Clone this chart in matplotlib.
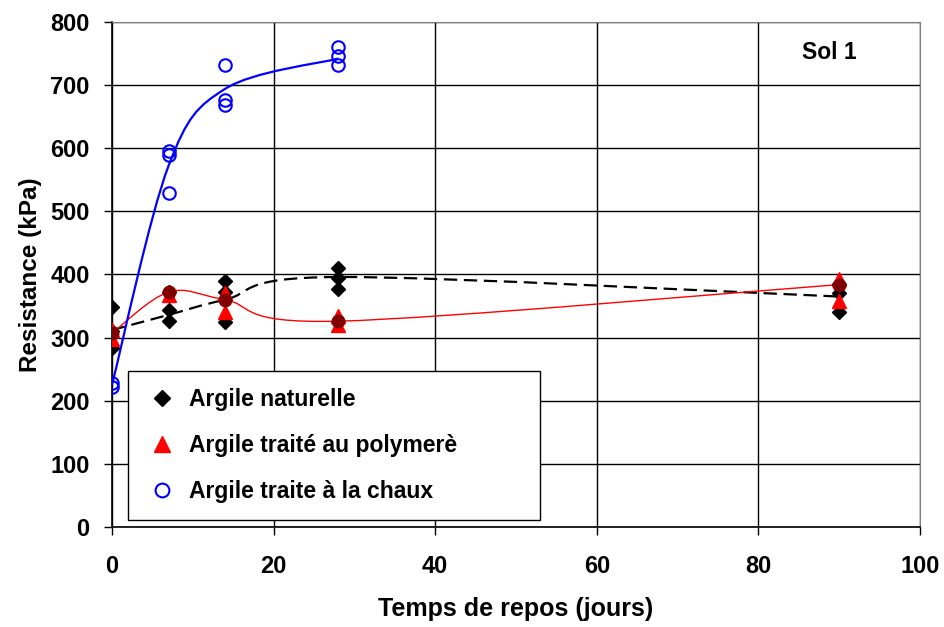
import numpy as np
import matplotlib.pyplot as plt
from matplotlib.path import Path
from matplotlib.patches import PathPatch

plt.rcParams['font.family'] = ['Liberation Sans', 'DejaVu Sans']
plt.rcParams['font.weight'] = 'bold'

# --- data -------------------------------------------------------------------
jours = [0, 7, 14, 28, 90]

# Argile naturelle (individual tests)
nat_x = [0, 0, 0, 7, 7, 7, 14, 14, 14, 28, 28, 28, 90, 90, 90]
nat_y = [348, 310, 283, 372, 343, 326, 389, 373, 325, 411, 395, 377, 385, 370, 341]
nat_moy = [312, 336, 360, 396, 365]

# Argile traitee au polymere
pol_x = [0, 0, 7, 14, 14, 28, 28, 90, 90]
pol_y = [312, 297, 367, 371, 341, 334, 320, 393, 358]
pol_moy = [307, 372, 360, 326, 384]

# Argile traitee a la chaux
chx_x = [0, 0, 7, 7, 7, 14, 14, 14, 28, 28, 28]
chx_y = [228, 222, 596, 589, 529, 732, 677, 668, 760, 746, 732]
chx_jours = [0, 7, 14, 28]
chx_moy = [225, 572, 694, 742]


def smooth_path(x, y):
    # excel-like smoothed line : bezier segments through the given points
    p = np.column_stack([x, y]).astype(float)
    p = np.vstack([p[0], p, p[-1]])
    verts = [p[1]]
    codes = [Path.MOVETO]
    for i in range(1, len(p) - 2):
        c1 = p[i] + (p[i + 1] - p[i - 1]) / 6
        c2 = p[i + 1] - (p[i + 2] - p[i]) / 6
        verts += [c1, c2, p[i + 1]]
        codes += [Path.CURVE4] * 3
    return Path(verts, codes)


fig = plt.figure(figsize=(9.44, 6.27), dpi=100)
ax = fig.add_axes([0.1186, 0.1595, 0.856, 0.8055])

ax.add_patch(PathPatch(smooth_path(jours, nat_moy), fill=False, color='black',
                       lw=1.6, ls=(0, (6, 3)), zorder=3))
ax.add_patch(PathPatch(smooth_path(jours, pol_moy), fill=False, color='red',
                       lw=1.0, zorder=3))
ax.add_patch(PathPatch(smooth_path(chx_jours, chx_moy), fill=False, color='blue',
                       lw=1.6, zorder=3))

ax.plot(nat_x, nat_y, 'D', color='black', ms=7.5, ls='none', zorder=4,
        label='Argile naturelle')
ax.plot(pol_x, pol_y, '^', color='red', ms=10, ls='none', zorder=5,
        label='Argile traité au polymerè')
ax.plot(jours, pol_moy, 'o', color='#800000', ms=9, ls='none', zorder=6)
ax.plot(chx_x, chx_y, 'o', mfc='none', mec='blue', mew=1.5, ms=9, ls='none',
        zorder=6, label='Argile traite à la chaux')

ax.set_xlim(0, 100)
ax.set_ylim(0, 800)
ax.set_xticks(np.arange(0, 101, 20))
ax.set_yticks(np.arange(0, 801, 100))
ax.grid(color='black', lw=1.0)
ax.set_axisbelow(True)
ax.tick_params(direction='out', length=6, width=1, labelsize=17)
ax.tick_params(axis='x', pad=14)
ax.tick_params(axis='y', pad=10)
for s in ['top', 'right']:
    ax.spines[s].set_color('#808080')
for s in ['left', 'bottom']:
    ax.spines[s].set_linewidth(1.2)

ax.set_xlabel('Temps de repos (jours)', fontsize=18, fontweight='bold', labelpad=14)
ax.set_ylabel('Resistance (kPa)', fontsize=17.5, fontweight='bold', labelpad=6)

ax.text(0.888, 0.94, 'Sol 1', transform=ax.transAxes, fontsize=16.5,
        fontweight='bold', ha='center', va='center')

leg = ax.legend(loc='lower left', bbox_to_anchor=(0.0198, 0.0139, 0.51, 0.287),
                mode='expand', borderaxespad=0, fontsize=16.5, fancybox=False,
                framealpha=1, edgecolor='black', labelspacing=1.0,
                handletextpad=0.4, borderpad=0.75, handlelength=1.5,
                markerscale=1.1)
leg.get_frame().set_linewidth(1.0)
leg.set_zorder(7)

fig.savefig('out.png', dpi=100)
